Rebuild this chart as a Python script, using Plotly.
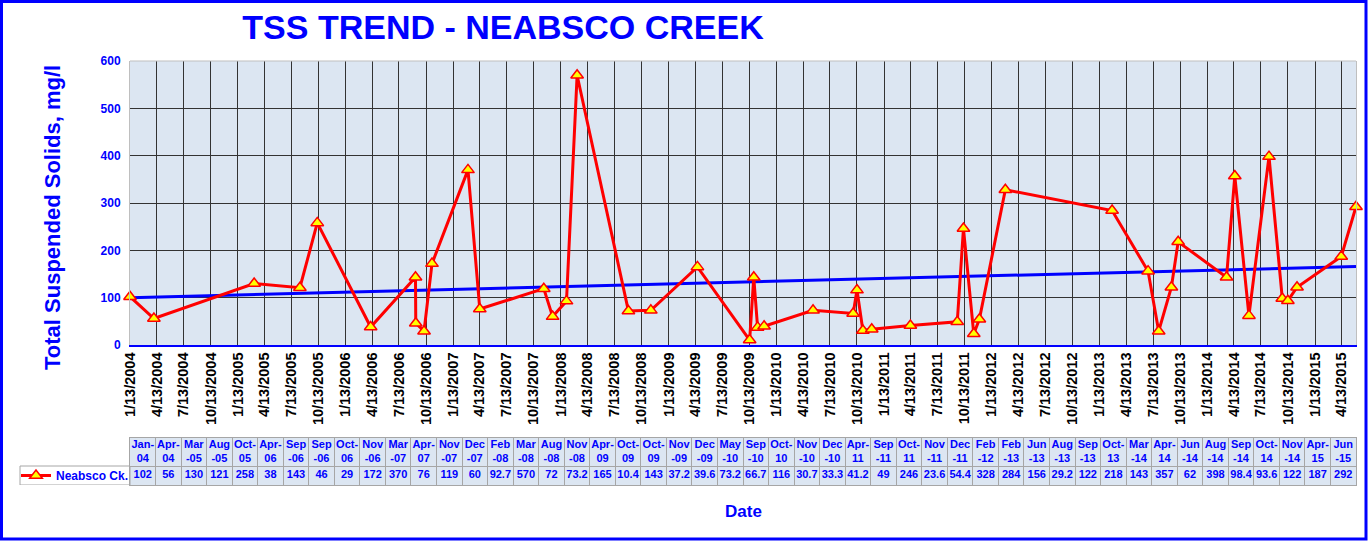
import numpy as np
import pandas as pd
import plotly.graph_objects as go

# --------------------------- DATA ---------------------------

sample_dates = [
    "2004-01-13", "2004-04-03", "2005-03-09", "2005-08-11", "2005-10-09", "2006-04-08",
    "2006-09-07", "2006-09-08", "2006-10-06", "2006-11-02", "2007-03-04", "2007-04-13",
    "2007-11-16", "2007-12-16", "2008-02-01", "2008-03-08", "2008-08-29", "2008-11-13",
    "2009-04-20", "2009-10-14", "2009-10-28", "2009-11-10", "2009-12-02", "2010-05-17",
    "2010-09-30", "2010-10-13", "2010-11-02", "2010-12-02", "2011-04-12", "2011-09-18",
    "2011-10-09", "2011-11-13", "2011-12-02", "2012-02-28", "2013-02-24", "2013-06-26",
    "2013-08-01", "2013-09-13", "2013-10-06", "2014-03-19", "2014-04-16", "2014-06-03",
    "2014-08-10", "2014-09-24", "2014-10-13", "2014-11-13", "2015-04-12", "2015-06-01",
]

tss_values = [
    102, 56, 130, 121, 258, 38, 143, 46, 29, 172, 370, 76,
    119, 60, 92.7, 570, 72, 73.2, 165, 10.4, 143, 37.2, 39.6, 73.2,
    66.7, 116, 30.7, 33.3, 41.2, 49, 246, 23.6, 54.4, 328, 284, 156,
    29.2, 122, 218, 143, 357, 62, 398, 98.4, 93.6, 122, 187, 292,
]

table_labels = [
    "Jan-04", "Apr-04", "Mar-05", "Aug-05", "Oct-05", "Apr-06", "Sep-06", "Sep-06",
    "Oct-06", "Nov-06", "Mar-07", "Apr-07", "Nov-07", "Dec-07", "Feb-08", "Mar-08",
    "Aug-08", "Nov-08", "Apr-09", "Oct-09", "Oct-09", "Nov-09", "Dec-09", "May-10",
    "Sep-10", "Oct-10", "Nov-10", "Dec-10", "Apr-11", "Sep-11", "Oct-11", "Nov-11",
    "Dec-11", "Feb-12", "Feb-13", "Jun-13", "Aug-13", "Sep-13", "Oct-13", "Mar-14",
    "Apr-14", "Jun-14", "Aug-14", "Sep-14", "Oct-14", "Nov-14", "Apr-15", "Jun-15",
]

series_name = "Neabsco Ck."

FONT = "Liberation Sans, Arial, sans-serif"
BLUE = "#0000FF"
TABLE_LINE = "#A6A6A6"


def wrap_label(lbl):
    # Excel wraps the narrow month names after the hyphen, the wide ones before it
    mon, yr = lbl.split("-")
    if mon in ("Jan", "Apr", "Oct"):
        return f"{mon}-<br>{yr}"
    return f"{mon}<br>-{yr}"


def fmt_value(v):
    return f"{v:g}"


# linear trend line (as Excel's linear trendline)
dts = pd.to_datetime(sample_dates)
days = (dts - dts[0]).days.values
slope, intercept = np.polyfit(days, tss_values, 1)
trend_x = [sample_dates[0], sample_dates[-1]]
trend_y = [intercept, intercept + slope * days[-1]]

# --------------------------- FIGURE ---------------------------

W, H = 1372, 543
ML, MR, MT, MB = 130, 16, 61, 58
PW = W - ML - MR
PH = H - MT - MB


def px_x(x):
    return (x - ML) / PW


def px_y(y):
    return (H - MB - y) / PH


fig = go.Figure()

fig.add_trace(go.Scatter(
    x=trend_x, y=trend_y, mode="lines",
    line=dict(color=BLUE, width=3),
    showlegend=False, hoverinfo="skip",
))

fig.add_trace(go.Scatter(
    x=sample_dates, y=tss_values, mode="lines+markers",
    name=series_name,
    line=dict(color="#FF0000", width=3),
    marker=dict(symbol="triangle-up", size=11, color="#FFFF00",
                line=dict(color="#FF0000", width=1.5)),
    cliponaxis=False,
))

# data table: header row and value row on their own axes
idx = list(range(len(table_labels)))
fig.add_trace(go.Scatter(
    x=idx, y=[33] * len(idx), mode="text",
    text=[wrap_label(l) for l in table_labels],
    textfont=dict(family=FONT, size=11, color=BLUE, weight="bold"),
    xaxis="x2", yaxis="y2", showlegend=False, hoverinfo="skip",
))
fig.add_trace(go.Scatter(
    x=idx, y=[9.5] * len(idx), mode="text",
    text=[fmt_value(v) for v in tss_values],
    textfont=dict(family=FONT, size=11, color=BLUE, weight="bold"),
    xaxis="x2", yaxis="y2", showlegend=False, hoverinfo="skip",
))

fig.update_layout(
    width=W,
    height=H,
    margin=dict(l=ML, r=MR, t=MT, b=MB),
    paper_bgcolor="white",
    plot_bgcolor="#DCE6F2",
    font=dict(family=FONT),

    title=dict(
        text="TSS TREND - NEABSCO CREEK",
        x=503 / W, xanchor="center", xref="container",
        y=1 - 27 / H, yanchor="middle", yref="container",
        font=dict(family=FONT, size=34, color=BLUE, weight="bold"),
    ),

    xaxis=dict(
        type="date",
        domain=[0, 1],
        anchor="y",
        range=[sample_dates[0], sample_dates[-1]],
        tick0=sample_dates[0],
        dtick="M3",
        tickformat="%-m/%-d/%Y",
        tickangle=-90,
        tickfont=dict(family=FONT, size=14.5, color="black", weight="bold"),
        showgrid=True, gridcolor="#333333", gridwidth=1,
        showline=True, linecolor=BLUE, linewidth=1.5,
        zeroline=False, ticks="",
    ),
    yaxis=dict(
        domain=[1 - (345 - MT) / PH, 1],
        anchor="x",
        range=[0, 600],
        dtick=100,
        tickfont=dict(family=FONT, size=12, color=BLUE, weight="bold"),
        showgrid=True, gridcolor="#333333", gridwidth=1,
        showline=True, linecolor="#BFBFBF", mirror=True,
        zeroline=False, ticks="", ticklabelstandoff=6,
    ),
    xaxis2=dict(
        domain=[0, 1],
        anchor="y2",
        range=[-0.5, len(idx) - 0.5],
        tickvals=[i - 0.5 for i in range(len(idx) + 1)],
        showticklabels=False, ticks="",
        showgrid=True, gridcolor=TABLE_LINE, gridwidth=1,
        showline=True, mirror=True, linecolor=TABLE_LINE,
        zeroline=False,
    ),
    yaxis2=dict(
        domain=[0, 47 / PH],
        anchor="x2",
        range=[0, 47],
        tickvals=[19],
        showticklabels=False, ticks="",
        showgrid=True, gridcolor=TABLE_LINE, gridwidth=1,
        showline=True, mirror=True, linecolor=TABLE_LINE,
        zeroline=False,
    ),

    legend=dict(
        x=px_x(16), xanchor="left",
        y=px_y(475.5), yanchor="middle",
        bgcolor="rgba(0,0,0,0)",
        font=dict(family=FONT, size=12, color=BLUE, weight="bold"),
        itemwidth=30,
    ),
    showlegend=True,
)

# legend cell of the table, top border of the plot area, outer frame
fig.add_shape(type="rect", xref="paper", yref="y2",
              x0=px_x(20), x1=0, y0=0, y1=19,
              line=dict(color=TABLE_LINE, width=1))
fig.add_shape(type="line", xref="paper", yref="paper",
              x0=0, x1=1, y0=1, y1=1,
              line=dict(color="#BFBFBF", width=1))
fig.add_shape(type="rect", xref="paper", yref="paper",
              x0=px_x(1.5), x1=px_x(1366), y0=px_y(1.5), y1=px_y(539),
              line=dict(color=BLUE, width=3))

# axis titles
fig.add_annotation(
    text="Total Suspended Solids, mg/l",
    xref="paper", yref="paper",
    x=px_x(53), y=px_y(218), xanchor="center", yanchor="middle",
    textangle=-90,
    showarrow=False,
    font=dict(family=FONT, size=22, color=BLUE, weight="bold"),
)
fig.add_annotation(
    text="Date",
    xref="paper", yref="paper",
    x=px_x(744), y=px_y(511), xanchor="center", yanchor="middle",
    showarrow=False,
    font=dict(family=FONT, size=17, color=BLUE, weight="bold"),
)

fig.write_html("out.html", config={"displayModeBar": False},
               post_script="document.body.style.margin='0';")
